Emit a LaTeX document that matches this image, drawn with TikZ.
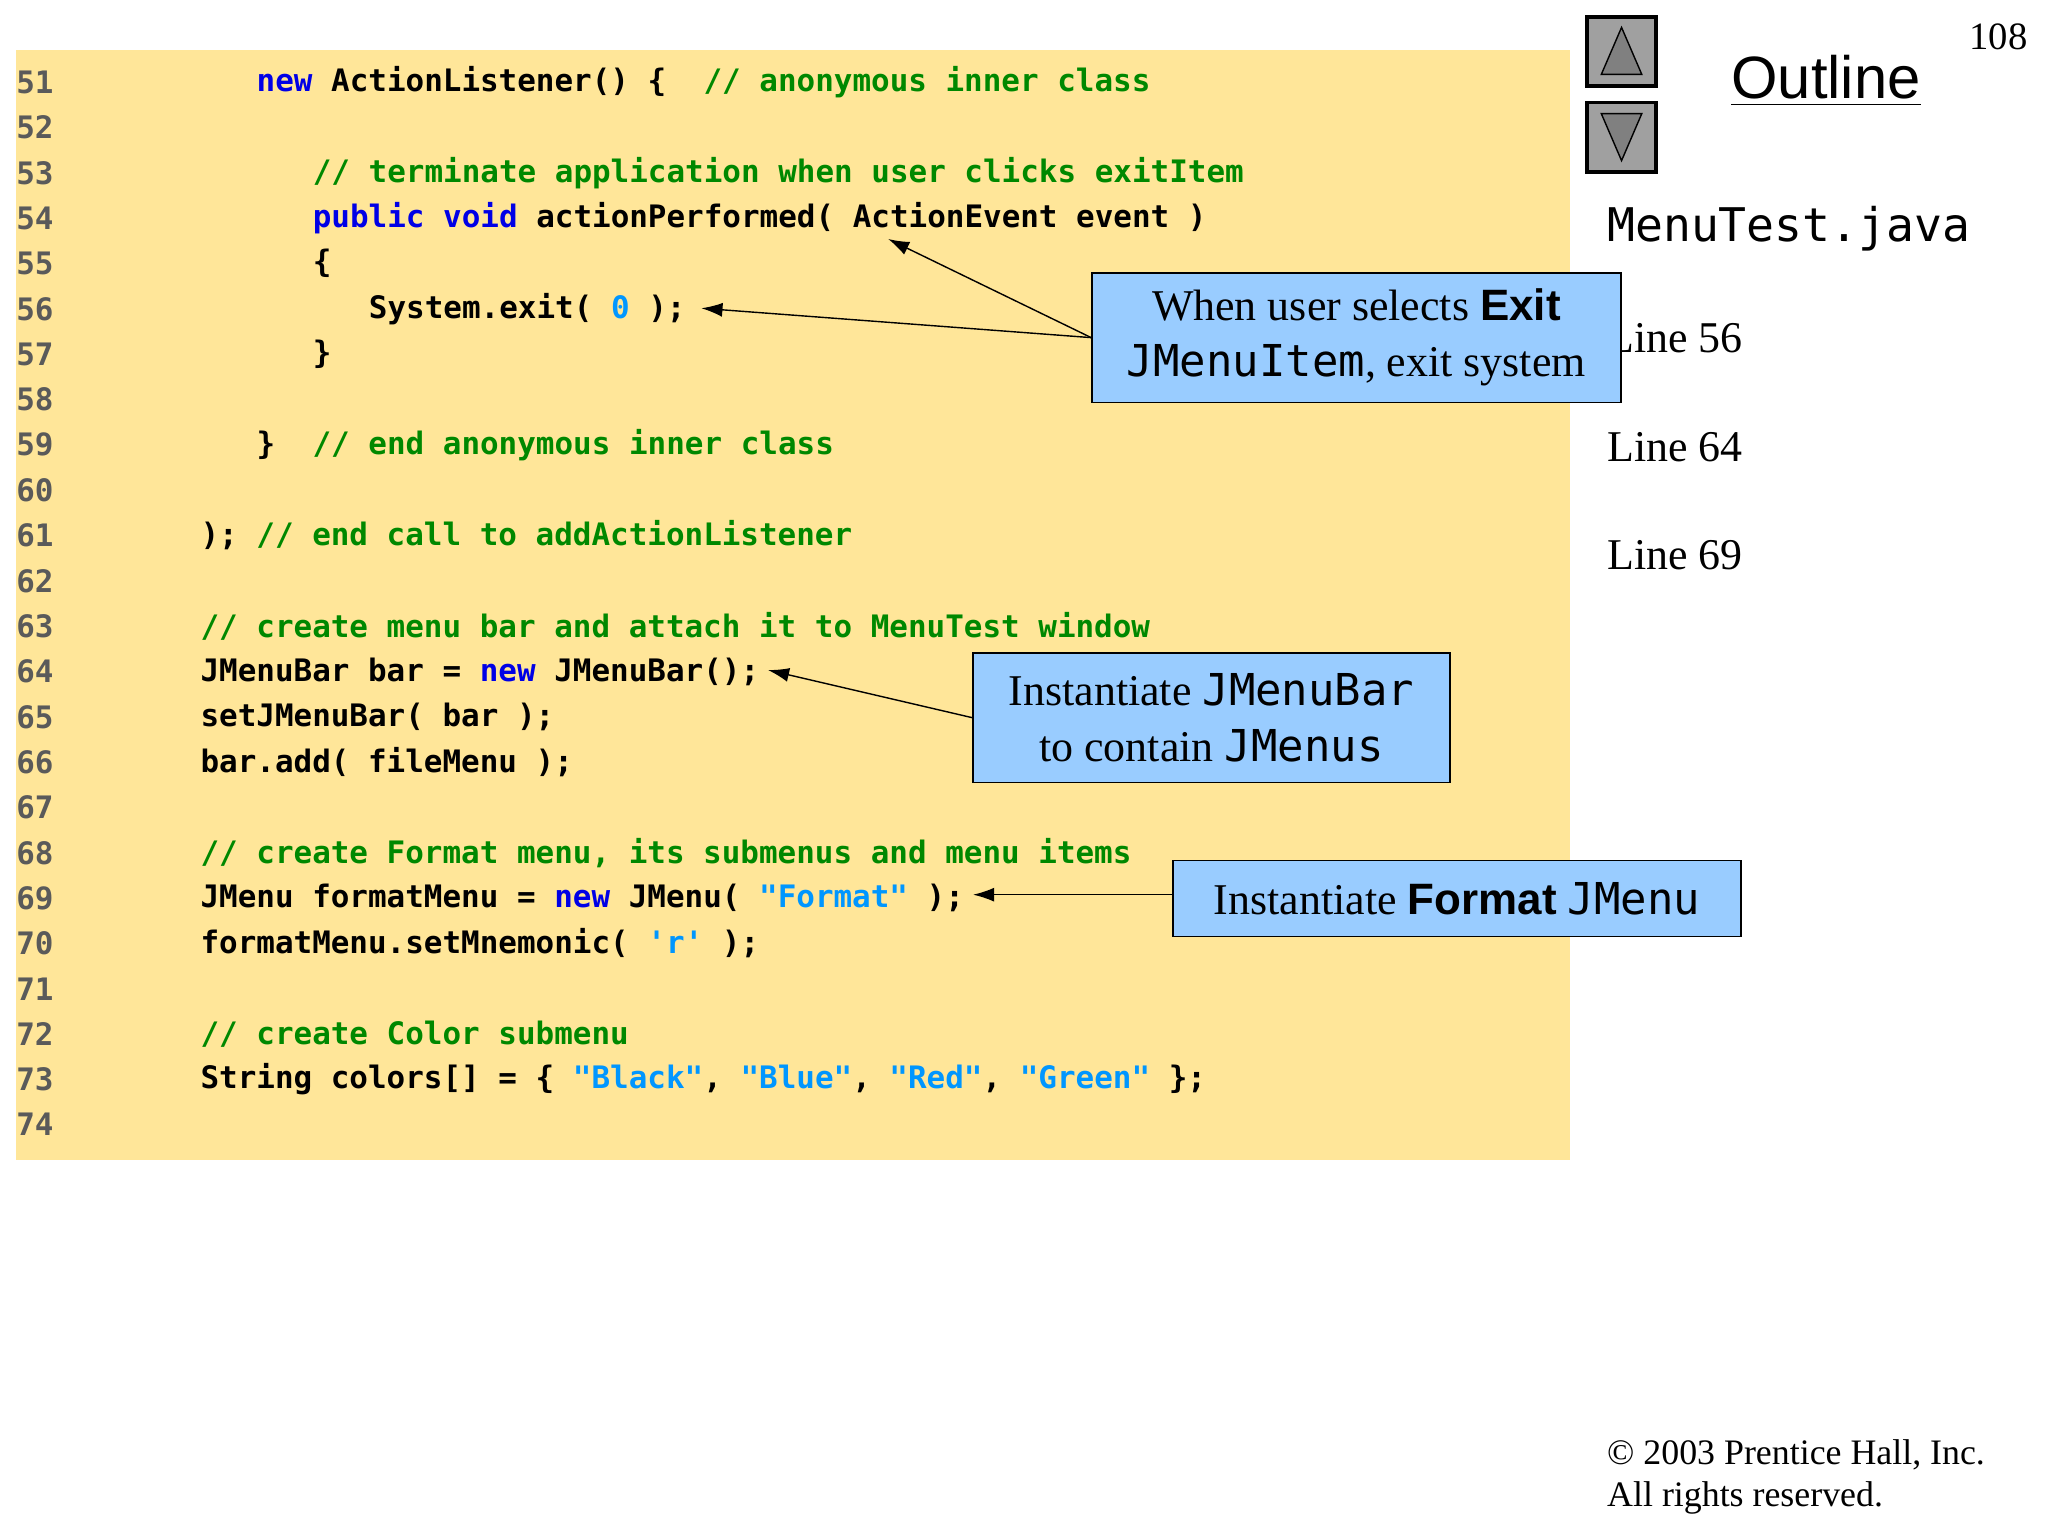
\documentclass[tikz,border=0pt]{standalone}
\usepackage{fontspec}
\setmainfont{Liberation Serif}
\setsansfont{Liberation Sans}
\setmonofont{DejaVu Sans Mono}
\usetikzlibrary{positioning,arrows.meta}
\definecolor{codebg}{RGB}{255,230,153}
\definecolor{callbg}{RGB}{153,204,255}
\definecolor{kwblue}{RGB}{0,0,230}
\definecolor{cmgreen}{RGB}{0,136,0}
\definecolor{stblue}{RGB}{0,150,255}
\definecolor{numgray}{RGB}{90,90,90}
\definecolor{btngray}{RGB}{160,160,160}
\newcommand{\kw}[1]{\textcolor{kwblue}{#1}}
\newcommand{\cm}[1]{\textcolor{cmgreen}{#1}}
\newcommand{\st}[1]{\textcolor{stblue}{#1}}
\tikzset{
	code/.style={anchor=west, inner sep=0pt, font=\fontsize{8.8}{10}\ttfamily\bfseries},
	lnum/.style={code, text=numgray},
	callout/.style={draw, fill=callbg, align=center, inner sep=2pt, font=\fontsize{12.5}{16}\selectfont},
	side/.style={anchor=west, inner sep=0pt, font=\fontsize{12.5}{14}\selectfont},
	point/.style={-{Latex[length=6pt,width=4pt]}},
	button/.style={draw, fill=btngray, minimum size=53*0.01306cm, inner sep=0pt, line width=1pt},
}
\newcommand{\cw}{14.33}
\begin{document}
\begin{tikzpicture}[x=0.01306cm, y=-0.01306cm]

	% Page
	\useasboundingbox (0,0) rectangle (1568,1176);

	% Code block
	\fill[codebg] (12,38) rectangle (1202,888);
	\foreach \n [count=\i from 0] in {51,...,74} {
		\node[lnum] (n\n) at (12,{63+34.7*\i}) {\n};
	}

	% Code lines
	\node[code] (l51) at ({153+3*\cw},63) {\kw{new} ActionListener() \{ \ \cm{// anonymous inner class}};
	\node[code] (l53) at ({153+6*\cw},132.4) {\cm{// terminate application when user clicks exitItem}};
	\node[code] (l54) at ({153+6*\cw},167.1) {\kw{public} \kw{void} actionPerformed( ActionEvent event )};
	\node[code] (l55) at ({153+6*\cw},201.8) {\{};
	\node[code] (l56) at ({153+9*\cw},236.5) {System.exit( \st{0} );};
	\node[code] (l57) at ({153+6*\cw},271.2) {\}};
	\node[code] (l59) at ({153+3*\cw},340.6) {\} \ \cm{// end anonymous inner class}};
	\node[code] (l61) at (153,410) {); \cm{// end call to addActionListener}};
	\node[code] (l63) at (153,479.4) {\cm{// create menu bar and attach it to MenuTest window}};
	\node[code] (l64) at (153,514.1) {JMenuBar bar = \kw{new} JMenuBar();};
	\node[code] (l65) at (153,548.8) {setJMenuBar( bar );};
	\node[code] (l66) at (153,583.5) {bar.add( fileMenu );};
	\node[code] (l68) at (153,652.9) {\cm{// create Format menu, its submenus and menu items}};
	\node[code] (l69) at (153,687.6) {JMenu formatMenu = \kw{new} JMenu( \st{"Format"} );};
	\node[code] (l70) at (153,722.3) {formatMenu.setMnemonic( \st{'r'} );};
	\node[code] (l72) at (153,791.7) {\cm{// create Color submenu}};
	\node[code] (l73) at (153,826.4) {String colors[] = \{ \st{"Black"}, \st{"Blue"}, \st{"Red"}, \st{"Green"} \};};

	% Navigation
	\node[button] (up) at (1241.5,39.5) {};
	\node[button] (down) at (1241.5,105) {};
	\draw[fill=gray] (1226,57) -- (1257,57) -- (1241.5,21) -- cycle;
	\draw[fill=gray] (1226,87) -- (1257,87) -- (1241.5,123) -- cycle;
	\node[font=\sffamily\fontsize{17}{19}\selectfont] (outline) at (1398,62) {\underline{Outline}};
	\node[font=\fontsize{11}{13}\selectfont] (page) at (1530,28) {108};

	% Side notes
	\node[side, font=\ttfamily\fontsize{13.2}{15}\selectfont] (file) at (1230,175) {MenuTest.java};
	\node[side] (s56) at (1230,259) {Line 56};
	\node[side] (s64) at (1230,342) {Line 64};
	\node[side] (s69) at (1230,425) {Line 69};
	\node[side, font=\fontsize{10.2}{12}\selectfont] (copy1) at (1230,1114) {\textcopyright{} 2003 Prentice Hall, Inc.};
	\node[side, font=\fontsize{10.2}{12}\selectfont] (copy2) at (1230,1147) {All rights reserved.};

	% Arrow targets
	\coordinate (t54) at (680,183);
	\coordinate (t56) at (537,236);
	\coordinate (t64) at (588,513);
	\coordinate (t69) at (745,685);

	% Callouts
	\node[callout, minimum width=405*0.01306cm, minimum height=99*0.01306cm] (exit) at (1038.5,258.5)
		{When user selects \textsf{\textbf{Exit}}\\ \texttt{JMenuItem}, exit system};
	\node[callout, minimum width=365*0.01306cm, minimum height=99*0.01306cm] (bar) at (927.5,549.5)
		{Instantiate \texttt{JMenuBar}\\ to contain \texttt{JMenus}};
	\node[callout, minimum width=435*0.01306cm, minimum height=58*0.01306cm] (fmt) at (1115.5,688)
		{Instantiate \textsf{\textbf{Format}} \texttt{JMenu}};
	\draw[point] (exit.west) -- (t54);
	\draw[point] (exit.west) -- (t56);
	\draw[point] (bar.west) -- (t64);
	\draw[point] (fmt.west |- t69) -- (t69);

\end{tikzpicture}
\end{document}
